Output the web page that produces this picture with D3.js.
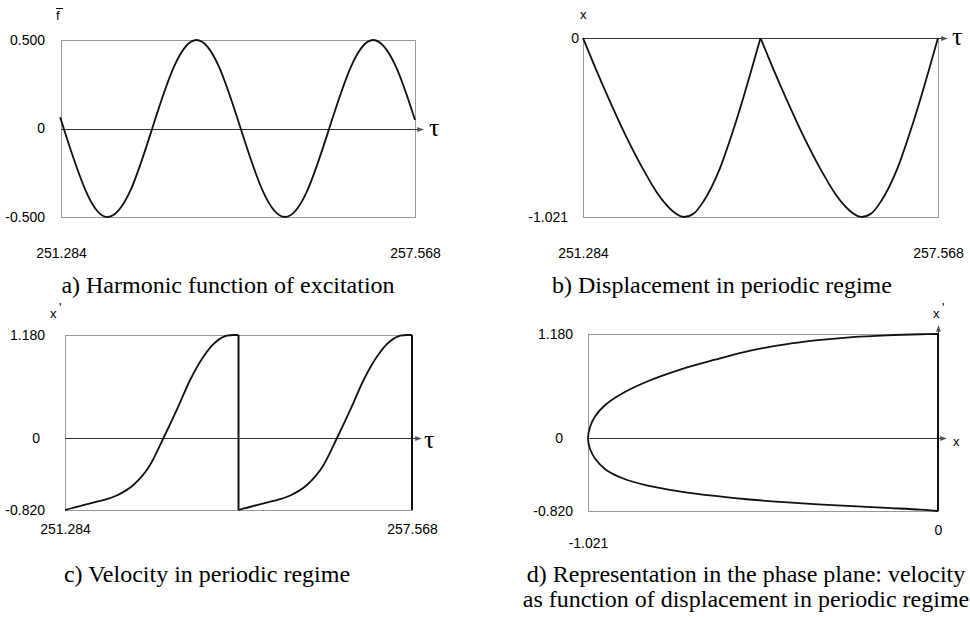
<!DOCTYPE html>
<html>
<head>
<meta charset="utf-8">
<script src="https://cdn.jsdelivr.net/npm/d3@7"></script>
<style>
  body { margin: 0; background: #fff; }
  .tick text { font-family: "Liberation Sans", Arial, sans-serif; font-size: 14px; fill: #000; }
  .lbl { font-family: "Liberation Sans", Arial, sans-serif; font-size: 13px; fill: #000; }
  .tau { font-family: "Liberation Serif", "Times New Roman", serif; font-size: 26px; fill: #000; }
  .caption { font-family: "Liberation Serif", "Times New Roman", serif; font-size: 24px; fill: #000; }
</style>
</head>
<body>
<svg id="chart" width="970" height="617"></svg>
<script>
// ---- data ----
var tauRange = [251.284, 257.568];

// a) harmonic excitation  [tau, f]
var excitation = [
  [251.284, 0.048], [251.333, 0], [251.726, -0.354], [252.118, -0.5], [252.511, -0.354],
  [252.903, 0], [253.296, 0.354], [253.689, 0.5], [254.081, 0.354], [254.474, 0],
  [254.867, -0.354], [255.260, -0.5], [255.652, -0.354], [256.045, 0], [256.438, 0.354],
  [256.830, 0.5], [257.223, 0.354], [257.568, 0.048]
];

// b) displacement, one arch per impact period  [tau, x]
var dispArch1 = [
  [251.284, 0], [251.491, -0.162], [251.727, -0.337], [252.053, -0.565], [252.377, -0.765],
  [252.600, -0.885], [252.761, -0.952], [252.920, -1.000], [253.073, -1.021], [253.250, -1.000],
  [253.410, -0.935], [253.706, -0.745], [253.941, -0.528], [254.118, -0.345], [254.285, -0.160],
  [254.426, 0]
];
var dispArch2 = [
  [254.426, 0], [254.633, -0.162], [254.869, -0.337], [255.195, -0.565], [255.519, -0.765],
  [255.742, -0.885], [255.903, -0.952], [256.062, -1.000], [256.215, -1.021], [256.392, -1.000],
  [256.552, -0.935], [256.848, -0.745], [257.083, -0.528], [257.260, -0.345], [257.427, -0.160],
  [257.568, 0]
];

// c) velocity  [tau, x']
var velSeg1 = [
  [251.284, -0.82], [251.616, -0.763], [251.918, -0.717], [252.221, -0.654], [252.522, -0.534],
  [252.825, -0.305], [253.066, 0], [253.308, 0.323], [253.550, 0.666], [253.790, 0.932],
  [254.034, 1.111], [254.215, 1.172], [254.330, 1.18], [254.426, 1.18]
];
var velSeg2 = [
  [254.426, -0.82], [254.758, -0.763], [255.060, -0.717], [255.363, -0.654], [255.664, -0.534],
  [255.967, -0.305], [256.208, 0], [256.450, 0.323], [256.692, 0.666], [256.932, 0.932],
  [257.176, 1.111], [257.357, 1.172], [257.472, 1.18], [257.568, 1.18]
];
var impactTaus = [254.426, 257.568];

// d) phase plane  [x, x']
var phaseLower = [
  [0, -0.82], [-0.05, -0.805], [-0.15, -0.785], [-0.25, -0.765], [-0.35, -0.745],
  [-0.45, -0.72], [-0.55, -0.69], [-0.65, -0.65], [-0.75, -0.60], [-0.85, -0.53],
  [-0.92, -0.45], [-0.97, -0.35], [-1.00, -0.23], [-1.015, -0.12], [-1.021, 0]
];
var phaseUpper = [
  [-1.021, 0], [-1.015, 0.13], [-1.00, 0.25], [-0.97, 0.38], [-0.92, 0.51],
  [-0.85, 0.64], [-0.75, 0.78], [-0.65, 0.89], [-0.55, 0.99], [-0.45, 1.06],
  [-0.35, 1.11], [-0.25, 1.145], [-0.15, 1.165], [-0.05, 1.177], [0, 1.18]
];

var captions = [
  ["a) Harmonic function of excitation"],
  ["b) Displacement in periodic regime"],
  ["c) Velocity in periodic regime"],
  ["d) Representation in the phase plane: velocity", "as function of displacement in periodic regime"]
];

// ---- drawing ----
var svg = d3.select("#chart");

svg.append("defs").append("marker")
    .attr("id", "arrow")
    .attr("viewBox", "0 0 8 6")
    .attr("refX", 7).attr("refY", 3)
    .attr("markerWidth", 7).attr("markerHeight", 5)
    .attr("markerUnits", "userSpaceOnUse")
    .attr("orient", "auto")
  .append("path")
    .attr("d", "M0,0L8,3L0,6Z")
    .attr("fill", "#555");

function fmt(v) { return v === 0 ? "0" : v.toFixed(3); }

function makePanel(o) {
  var p = {};
  p.x = d3.scaleLinear().domain(o.xDomain).range([o.box[0], o.box[1]]);
  p.y = d3.scaleLinear().domain(o.yDomain).range([o.box[3], o.box[2]]);
  p.g = svg.append("g");

  // frame
  p.g.append("rect")
    .attr("x", o.box[0] + 0.5).attr("y", o.box[2] + 0.5)
    .attr("width", o.box[1] - o.box[0]).attr("height", o.box[3] - o.box[2])
    .attr("fill", "none").attr("stroke", "#999").attr("stroke-width", 1);

  // y ticks (left)
  var ya = p.g.append("g")
    .attr("transform", "translate(" + o.box[0] + ",0)")
    .call(d3.axisLeft(p.y).tickValues(o.yTicks).tickSize(0).tickFormat(fmt));
  ya.select(".domain").remove();
  ya.selectAll(".tick text").attr("x", function(d) { return -(o.yPad[d] != null ? o.yPad[d] : 16); });

  // x ticks (bottom)
  var xa = p.g.append("g")
    .attr("transform", "translate(0," + o.box[3] + ")")
    .call(d3.axisBottom(p.x).tickValues(o.xTicks).tickSize(0).tickFormat(fmt));
  xa.select(".domain").remove();
  xa.selectAll(".tick text").attr("y", function(d) { return o.xPad[d]; });

  return p;
}

function curve(p, data, crv, w) {
  p.g.append("path")
    .datum(data)
    .attr("fill", "none")
    .attr("stroke", "#111")
    .attr("stroke-width", w || 1.8)
    .attr("d", d3.line().x(function(d) { return p.x(d[0]); }).y(function(d) { return p.y(d[1]); }).curve(crv));
}

function hAxis(p, x0, x1, yv) {
  p.g.append("line")
    .attr("x1", x0).attr("x2", x1)
    .attr("y1", Math.round(p.y(yv)) + 0.5).attr("y2", Math.round(p.y(yv)) + 0.5)
    .attr("stroke", "#333").attr("stroke-width", 1)
    .attr("marker-end", "url(#arrow)");
}

function caption(lines, cx, y0) {
  lines.forEach(function(t, i) {
    svg.append("text").attr("class", "caption")
      .attr("x", cx).attr("y", y0 + i * 25)
      .attr("text-anchor", "middle").text(t);
  });
}

// a)
var pa = makePanel({
  box: [61, 415, 40, 217], xDomain: tauRange, yDomain: [-0.5, 0.5],
  yTicks: [0.5, 0, -0.5], yPad: {}, xTicks: tauRange,
  xPad: { 251.284: 31, 257.568: 31 }
});
hAxis(pa, 61, 423, 0);
curve(pa, excitation, d3.curveNatural);
pa.g.append("text").attr("class", "tau").attr("x", 429).attr("y", 136).text("τ");
pa.g.append("text").attr("class", "lbl").attr("x", 56).attr("y", 20).text("f");
pa.g.append("line").attr("x1", 56).attr("x2", 63).attr("y1", 8.5).attr("y2", 8.5).attr("stroke", "#000");

// b)
var pb = makePanel({
  box: [583, 938, 38, 217], xDomain: tauRange, yDomain: [-1.021, 0],
  yTicks: [0, -1.021], yPad: { 0: 4, "-1.021": 15 }, xTicks: tauRange,
  xPad: { 251.284: 31, 257.568: 31 }
});
hAxis(pb, 583, 947, 0);
curve(pb, dispArch1, d3.curveMonotoneX);
curve(pb, dispArch2, d3.curveMonotoneX);
pb.g.append("text").attr("class", "tau").attr("x", 952).attr("y", 45).text("τ");
pb.g.append("text").attr("class", "lbl").attr("x", 580).attr("y", 19).text("x");

// c)
var pc = makePanel({
  box: [65, 412, 335, 510], xDomain: tauRange, yDomain: [-0.82, 1.18],
  yTicks: [1.18, 0, -0.82], yPad: { 1.18: 20, 0: 25, "-0.82": 20 }, xTicks: tauRange,
  xPad: { 251.284: 14, 257.568: 14 }
});
hAxis(pc, 65, 421, 0);
curve(pc, velSeg1, d3.curveMonotoneX);
curve(pc, velSeg2, d3.curveMonotoneX);
impactTaus.forEach(function(t) {
  pc.g.append("line")
    .attr("x1", pc.x(t)).attr("x2", pc.x(t))
    .attr("y1", pc.y(1.18)).attr("y2", pc.y(-0.82))
    .attr("stroke", "#111").attr("stroke-width", 2);
});
pc.g.append("text").attr("class", "tau").attr("x", 424).attr("y", 448).text("τ");
pc.g.append("text").attr("class", "lbl").attr("x", 50).attr("y", 318).text("x");
pc.g.append("text").attr("class", "lbl").attr("x", 59).attr("y", 312).text("'");

// d)
var pd = makePanel({
  box: [588, 938, 334, 511], xDomain: [-1.021, 0], yDomain: [-0.82, 1.18],
  yTicks: [1.18, 0, -0.82], yPad: { 1.18: 15, 0: 25, "-0.82": 15 }, xTicks: [-1.021, 0],
  xPad: { "-1.021": 27, 0: 14 }
});
hAxis(pd, 588, 946, 0);
pd.g.append("line")
  .attr("x1", pd.x(0) + 0.5).attr("x2", pd.x(0) + 0.5)
  .attr("y1", pd.y(-0.82)).attr("y2", 326)
  .attr("stroke", "#333").attr("stroke-width", 1)
  .attr("marker-end", "url(#arrow)");
curve(pd, phaseLower.concat(phaseUpper.slice(1)), d3.curveCatmullRom.alpha(0.5));
pd.g.append("line")
  .attr("x1", pd.x(0)).attr("x2", pd.x(0))
  .attr("y1", pd.y(1.18)).attr("y2", pd.y(-0.82))
  .attr("stroke", "#111").attr("stroke-width", 2);
pd.g.append("text").attr("class", "lbl").attr("x", 953).attr("y", 446).text("x");
pd.g.append("text").attr("class", "lbl").attr("x", 933).attr("y", 318).text("x");
pd.g.append("text").attr("class", "lbl").attr("x", 942).attr("y", 312).text("'");

caption(captions[0], 228, 293);
caption(captions[1], 722, 293);
caption(captions[2], 207, 582);
caption(captions[3], 746, 582);
</script>
</body>
</html>
